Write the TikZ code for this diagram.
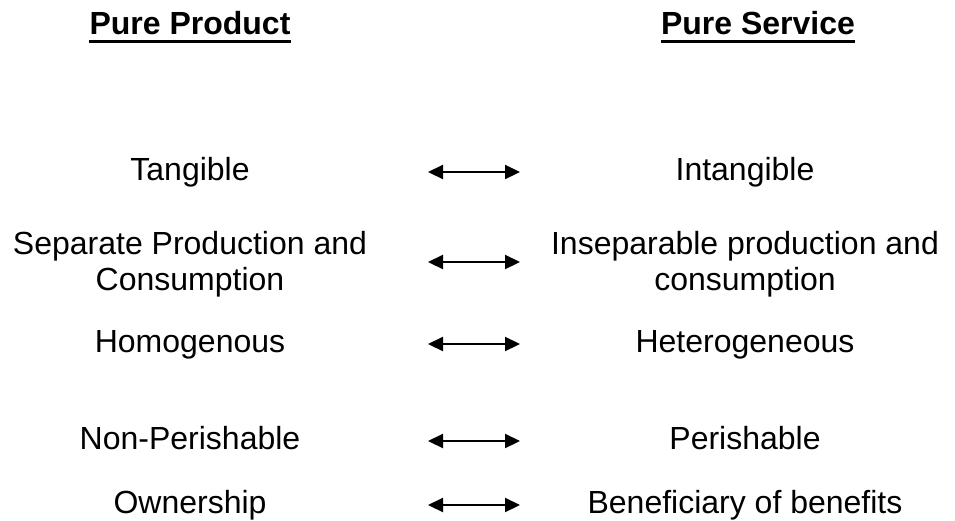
\documentclass[tikz,border=0pt]{standalone}
\usepackage{fontspec}
\setmainfont{Liberation Sans}
\usetikzlibrary{arrows.meta}
\begin{document}
\begin{tikzpicture}[x=1pt,y=-1pt,
  title/.style={font=\fontsize{32}{36}\selectfont\bfseries, inner sep=0pt, anchor=base},
  item/.style={font=\fontsize{32}{36}\selectfont, align=center, inner sep=0pt, anchor=base},
  pair/.style={font=\fontsize{32}{36}\selectfont, align=center, inner sep=0pt},
  link/.style={line width=2.2pt, {Triangle[length=15pt,width=14pt]}-{Triangle[length=15pt,width=14pt]}}]
\useasboundingbox (0,0) rectangle (955,520);
% column headings
\node[title] (hp) at (190,34) {Pure Product};
\node[title] (hs) at (758,34) {Pure Service};
\draw[line width=3pt] (hp.west |- 0,41) -- (hp.east |- 0,41);
\draw[line width=3pt] (hs.west |- 0,41) -- (hs.east |- 0,41);
% left column
\node[item] (l1) at (190,180) {Tangible};
\node[pair] (l2) at (190,264) {Separate Production and\\Consumption};
\node[item] (l3) at (190,352) {Homogenous};
\node[item] (l4) at (190,449) {Non-Perishable};
\node[item] (l5) at (190,513) {Ownership};
% right column
\node[item] (r1) at (745,180) {Intangible};
\node[pair] (r2) at (745,264) {Inseparable production and\\consumption};
\node[item] (r3) at (745,352) {Heterogeneous};
\node[item] (r4) at (745,449) {Perishable};
\node[item] (r5) at (745,513) {Beneficiary of benefits};
% double arrows between the columns
\foreach \i/\y in {1/172,2/262,3/344,4/441,5/505}{
  \coordinate (a\i) at (428,\y);
  \coordinate (b\i) at (520,\y);
  \draw[link] (a\i) -- (b\i);
}
\end{tikzpicture}
\end{document}
